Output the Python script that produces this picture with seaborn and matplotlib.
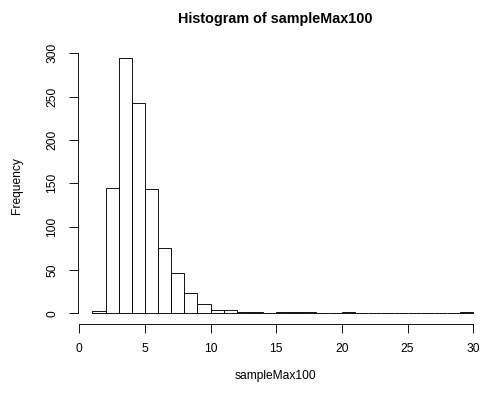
import numpy as np
import pandas as pd
import matplotlib
matplotlib.use("Agg")
import matplotlib.pyplot as plt
import seaborn as sns

# Histogram data (bins of width 1 from 1 to 30)
breaks = list(range(1, 31))
counts = [3, 145, 294, 242, 143, 75, 46, 23, 11, 4, 4, 1, 2, 0, 1, 2, 1, 0, 0, 2,
          0, 0, 0, 0, 0, 0, 0, 0, 1]
xticks = [0, 5, 10, 15, 20, 25, 30]
yticks = [0, 50, 100, 150, 200, 250, 300]
title = "Histogram of sampleMax100"
xlabel = "sampleMax100"
ylabel = "Frequency"

sns.set_theme(style="ticks")
plt.rcParams['font.family'] = ['Liberation Sans', 'DejaVu Sans']

W, H, DPI = 482, 394, 72
fig = plt.figure(figsize=(W / DPI, H / DPI), dpi=DPI)
L, R, T, B = 77.5, 473.2, 48.2, 323.5
ax = fig.add_axes([L / W, (H - B) / H, (R - L) / W, (B - T) / H])

mids = [b + 0.5 for b in breaks[:-1]]
df = pd.DataFrame({"x": mids, "w": counts})
sns.histplot(data=df, x="x", weights="w", bins=breaks, stat="count",
             color="white", edgecolor="black", linewidth=0.9, alpha=1,
             ax=ax)
for p in ax.patches:
    p.set_clip_on(False)

ax.set_xlim(-0.135, 30.0)
ax.set_ylim(-11.76, 305.76)

for s in ["top", "right"]:
    ax.spines[s].set_visible(False)
ax.spines["bottom"].set_bounds(0, 30)
ax.spines["left"].set_bounds(0, 300)
for s in ["bottom", "left"]:
    ax.spines[s].set_color("black")
    ax.spines[s].set_linewidth(0.9)

ax.set_xticks(xticks)
ax.set_yticks(yticks)
ax.set_yticklabels([str(v) for v in yticks], rotation=90, va="center")
ax.tick_params(axis="both", length=9, width=0.9, color="black",
               labelsize=12, labelcolor="black")
ax.tick_params(axis="x", pad=11)
ax.tick_params(axis="y", pad=10)

ax.set_xlabel(xlabel, fontsize=12, color="black")
ax.set_ylabel(ylabel, fontsize=12, color="black")
ax.xaxis.set_label_coords(0.5, (B - 376) / (B - T))
ax.yaxis.set_label_coords((17 - L) / (R - L), 0.5)
ax.xaxis.label.set_va("center")
ax.yaxis.label.set_va("center")

ax.text(0.5, (B - 19) / (B - T), title, transform=ax.transAxes,
        ha="center", va="center", fontsize=14.4, fontweight="bold",
        color="black")

fig.savefig("out.png", dpi=DPI)
